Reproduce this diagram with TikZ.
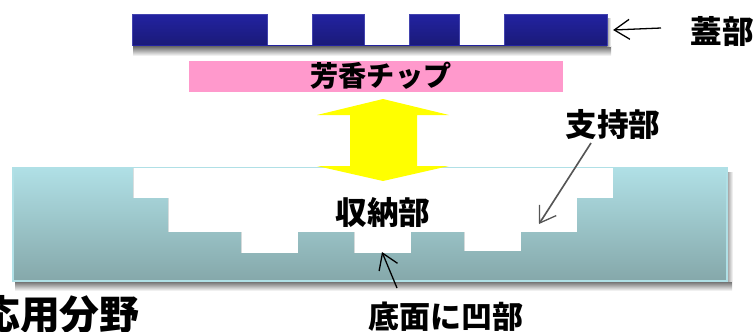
\documentclass[tikz,border=0pt]{standalone}
\usepackage{fontspec}
\usepackage{xcolor}
\newfontfamily\jpfont{Noto Sans CJK JP}
\usetikzlibrary{arrows.meta, positioning, calc}
\definecolor{lidblue}{RGB}{34, 34, 160}
\definecolor{liddark}{RGB}{26, 26, 120}
\definecolor{chippink}{RGB}{255, 153, 204}
\definecolor{basetop}{RGB}{176, 224, 230}
\definecolor{basebottom}{RGB}{133, 168, 170}
\definecolor{pointergray}{RGB}{85, 85, 85}
\definecolor{moveyellow}{RGB}{255, 255, 0}
\tikzset{
    downshadow/.style={top color=black!60, bottom color=white, draw=none},
    sideshadow/.style={left color=black!40, right color=white, draw=none},
    label/.style={font=\jpfont\bfseries\fontsize{27}{27}\selectfont, inner sep=0pt, text=black},
    pointer/.style={-{Straight Barb[length=13pt, width=17pt, line width=1.1pt]}, line width=1.1pt}
}
\begin{document}
\begin{tikzpicture}[x=0.03cm, y=-0.03cm]
    \useasboundingbox (0,0) rectangle (753,331);

    % Lid
    \shade[downshadow] (133,46) rectangle (611,56);
    \shade[sideshadow] (607,18) rectangle (611,46);
    \node[fill=white, minimum width=14.235cm, minimum height=0.945cm, inner sep=0pt] (lid) at (369.75,30.25) {};
    \foreach \xa/\xb in {132.5/267, 312/364, 409/459, 504/607}
        \draw[lidblue!85!white, line width=0.5pt, top color=lidblue, bottom color=liddark] (\xa,14.5) rectangle (\xb,45.5);
    \draw[lidblue, line width=1pt] (132.5,45.8) -- (607,45.8);

    % Aroma chip
    \node[fill=chippink, minimum width=11.22cm, minimum height=0.93cm, inner sep=0pt] (chip) at (376,76.5) {};
    \node[label, font=\jpfont\bfseries\fontsize{24}{24}\selectfont] (chiplabel) at (381,76) {芳香チップ};

    % Base with stepped recess
    \shade[downshadow] (15,281) rectangle (732,291);
    \shade[sideshadow] (727,172) rectangle (733,281);
    \fill[top color=basetop, bottom color=basebottom]
        (13,167.5) -- (133,167.5) -- (133,198) -- (168,198) -- (168,232) -- (241,232)
        -- (241,253) -- (298,253) -- (298,232) -- (354,232) -- (354,253) -- (411,253)
        -- (411,232) -- (464,232) -- (464,251) -- (521,251) -- (521,232) -- (577,232)
        -- (577,198) -- (613,198) -- (613,167.5) -- (727,167.5) -- (727,281) -- (13,281) -- cycle;
    \draw[basetop, line width=1.2pt] (133,167.5) -- (13,167.5) -- (13,281) -- (727,281) -- (727,167.5) -- (613,167.5);
    \draw[basetop, line width=0.5pt] (133,167.5) -- (613,167.5);

    % Yellow double arrow
    \fill[moveyellow] (383,99) -- (449,115) -- (417,115) -- (417,166) -- (449,166) -- (383,181)
        -- (317,166) -- (350,166) -- (350,115) -- (317,115) -- cycle;

    % Labels
    \node[label] (lidlabel) at (722,31) {蓋部};
    \node[label] (supportlabel) at (613,125) {支持部};
    \node[label] (recesslabel) at (383,212) {収納部};
    \node[label, font=\jpfont\bfseries\fontsize{26.5}{27}\selectfont] (bottomlabel) at (446,317) {底面に凹部};
    \node[label, font=\jpfont\bfseries\fontsize{34}{34}\selectfont, anchor=west] (fieldlabel) at (-20,315) {応用分野};

    % Pointers
    \coordinate (supporttip) at (539,224);
    \coordinate (bottomtip) at (382,252);
    \draw[pointer, shorten >=5pt] (lidlabel.center) ++(-61,-3) -- (lid.east);
    \draw[pointer, pointergray, line width=1.4pt] (supportlabel.center) ++(-22,18) -- (supporttip);
    \draw[pointer] (bottomlabel.center) ++(-49,-29) -- (bottomtip);
\end{tikzpicture}
\end{document}
